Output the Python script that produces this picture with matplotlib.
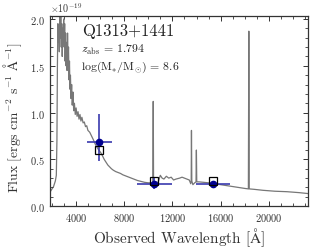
import matplotlib
matplotlib.use("Agg")
import matplotlib.pyplot as plt
from matplotlib.ticker import MultipleLocator
import numpy as np

plt.rcParams['font.family'] = 'serif'
plt.rcParams['font.serif'] = ['cmr10']
plt.rcParams['mathtext.fontset'] = 'cm'
plt.rcParams['axes.formatter.use_mathtext'] = True

# Spectrum (wavelength in Angstrom, flux in 1e-19 erg/s/cm2/A)
spec_wave = [1850, 2000, 2150, 2300, 2380, 2430, 2470, 2510, 2550, 2590, 2630, 2670,
             2710, 2750, 2790, 2830, 2870, 2910, 2950, 2990, 3030, 3070, 3110, 3150,
             3190, 3230, 3270, 3310, 3350, 3390, 3430, 3470, 3510, 3550, 3600, 3650,
             3700, 3760, 3820, 3880, 3950, 4020, 4100, 4180, 4260, 4340, 4420, 4500,
             4600, 4700, 4800, 4900, 5000, 5150, 5300, 5450, 5600, 5750, 5900, 6050,
             6200, 6350, 6500, 6650, 6800, 6950, 7100, 7300, 7500, 7700, 7900, 8100,
             8300, 8500, 8800, 9100, 9400, 9700, 10000, 10300, 10380, 10413, 10440,
             10550, 10700, 10850, 11000, 11150, 11300, 11500, 11700, 11900, 12100,
             12300, 12600, 12800, 13000, 13200, 13400, 13520, 13560, 13582, 13610,
             13700, 13850, 13960, 13990, 14020, 14200, 14600, 15000, 15500, 16000,
             16500, 17000, 17500, 18000, 18300, 18337, 18370, 18800, 19500, 20500,
             21500, 22500, 23250]
spec_flux = [0.15, 0.18, 0.21, 0.27, 0.33, 0.70, 1.50, 1.95, 1.75, 1.90, 1.65, 2.10,
             1.80, 2.05, 1.70, 1.95, 1.60, 1.90, 1.75, 2.00, 1.70, 1.95, 1.55, 1.85,
             1.50, 1.75, 1.45, 1.85, 1.55, 1.70, 1.35, 1.55, 1.25, 1.40, 1.15, 1.30,
             1.08, 1.22, 1.02, 1.10, 0.98, 1.05, 0.96, 1.01, 0.93, 0.98, 0.91, 0.95,
             0.89, 0.90, 0.85, 0.86, 0.81, 0.79, 0.75, 0.71, 0.665, 0.63, 0.60, 0.575,
             0.54, 0.50, 0.47, 0.44, 0.42, 0.40, 0.385, 0.37, 0.36, 0.35, 0.335, 0.325,
             0.315, 0.305, 0.29, 0.275, 0.265, 0.255, 0.25, 0.25, 0.26, 1.12, 0.26,
             0.24, 0.22, 0.27, 0.33, 0.30, 0.29, 0.32, 0.30, 0.31, 0.28,
             0.29, 0.30, 0.31, 0.30, 0.29, 0.28, 0.24, 0.27, 0.81, 0.27,
             0.23, 0.25, 0.26, 0.60, 0.26, 0.26, 0.255, 0.25, 0.24, 0.23,
             0.22, 0.21, 0.20, 0.19, 0.185, 1.87, 0.185, 0.18, 0.17, 0.16,
             0.155, 0.145, 0.135]

# Photometry
phot_wave = [5890, 10470, 15340]
phot_flux = [0.685, 0.235, 0.239]
phot_werr_lo = [1000, 1380, 1410]
phot_werr_hi = [1080, 1470, 1435]
phot_ferr_lo = [0.20, 0.055, 0.025]
phot_ferr_hi = [0.30, 0.070, 0.025]
model_flux = [0.603, 0.268, 0.268]

scale = 1e-19

fig = plt.figure(figsize=(3.16, 2.53), dpi=100)
ax = fig.add_axes([0.158, 0.181, 0.817, 0.751])

ax.plot(spec_wave, np.array(spec_flux) * scale, color='#777777', lw=0.9, zorder=1)
ax.errorbar(phot_wave, np.array(phot_flux) * scale,
            xerr=[phot_werr_lo, phot_werr_hi],
            yerr=[np.array(phot_ferr_lo) * scale, np.array(phot_ferr_hi) * scale],
            fmt='o', color='#00008f', ecolor='#3a3aae', elinewidth=1.2,
            markersize=4.5, capsize=0, zorder=3)
ax.plot(phot_wave, np.array(model_flux) * scale, 's', mfc='none', mec='black',
        mew=0.9, markersize=5.5, zorder=4)

ax.set_xlim(1850, 23250)
ax.set_ylim(0, 2.03e-19)
ax.xaxis.set_major_locator(MultipleLocator(4000))
ax.xaxis.set_minor_locator(MultipleLocator(1000))
ax.yaxis.set_major_locator(MultipleLocator(0.5e-19))
ax.yaxis.set_minor_locator(MultipleLocator(0.1e-19))
ax.tick_params(which='both', direction='in', top=True, right=True,
               labelsize=7.5, colors='#333333', labelcolor='#333333')
ax.tick_params(which='major', length=3.5, width=0.7)
ax.tick_params(which='minor', length=2, width=0.6)
for s in ax.spines.values():
    s.set_color('#333333')
    s.set_linewidth(0.9)
ax.yaxis.get_offset_text().set_fontsize(7.2)
ax.yaxis.get_offset_text().set_color('#333333')

ax.set_xlabel(r'Observed Wavelength [$\mathrm{\AA}$]', fontsize=11, color='#333333',
              labelpad=2)
ax.set_ylabel(r'Flux [ergs cm$^{-2}$ s$^{-1}$ $\mathrm{\AA}^{-1}$]', fontsize=9.8,
              color='#333333')
ax.yaxis.set_label_coords(-0.10, 0.47)

ax.text(0.124, 0.90, 'Q1313+1441', transform=ax.transAxes, fontsize=12,
        color='#222222', va='baseline')
ax.text(0.122, 0.81, r'$z_{\rm abs}$ = 1.794', transform=ax.transAxes, fontsize=8.5,
        color='#222222', va='baseline')
ax.text(0.122, 0.725, r'log(M$_{*}$/M$_{\odot}$) = 8.6', transform=ax.transAxes,
        fontsize=8.5, color='#222222', va='baseline')

fig.savefig('out.png', dpi=100)
